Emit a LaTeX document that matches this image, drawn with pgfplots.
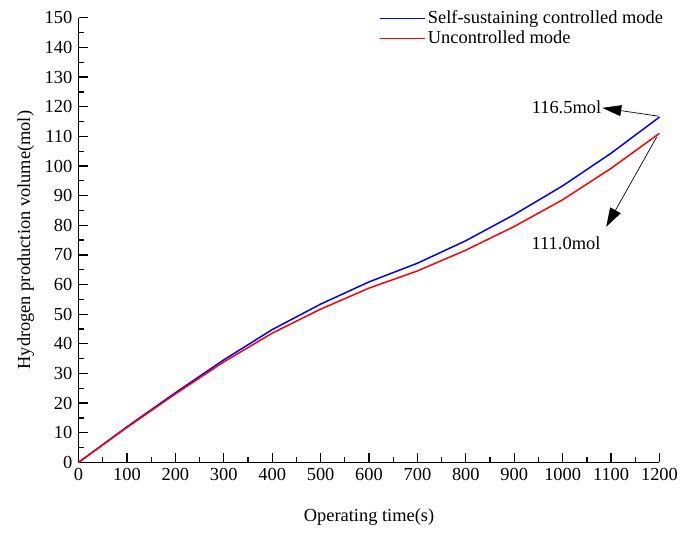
\documentclass[border=0pt]{standalone}
\usepackage{fontspec}
\setmainfont{Liberation Serif}
\usepackage{pgfplots}
\pgfplotsset{compat=1.18}
\usetikzlibrary{arrows.meta}
\begin{document}
\fontsize{18.5}{22}\selectfont
\begin{tikzpicture}
\begin{axis}[
  scale only axis, width=584pt, height=447pt,
  xmin=0, xmax=1200, ymin=0, ymax=150,
  axis lines*=left,
  axis line style={line width=1.5pt},
  xtick={0,100,...,1200}, ytick={0,10,...,150},
  minor x tick num=1, minor y tick num=1,
  tick align=inside,
  major tick length=9pt, minor tick length=5pt,
  every tick/.style={black, line width=1.3pt},
  tick label style={font=\fontsize{18.5}{22}\selectfont},
  /pgf/number format/assume math mode=true,
  /pgf/number format/1000 sep={},
  xlabel={Operating time(s)}, ylabel={Hydrogen production volume(mol)},
  label style={font=\fontsize{18.5}{22}\selectfont},
  xlabel style={at={(rel axis cs:0.5,-0.123)}, anchor=center},
  ylabel style={at={(rel axis cs:-0.0908,0.5)}, anchor=center},
  legend style={at={(rel axis cs:1.015,1.025)}, anchor=north east, draw=none, fill=none,
    font=\fontsize{18.5}{22}\selectfont},
  legend cell align=left,
  clip=false,
]
\addlegendimage{legend image code/.code={\draw[blue, line width=1.5pt] (0pt,0pt) -- (45pt,0pt);}}
\addlegendentry{Self-sustaining controlled mode}
\addlegendimage{legend image code/.code={\draw[red, line width=1.5pt] (0pt,0pt) -- (45pt,0pt);}}
\addlegendentry{Uncontrolled mode}
\addplot[blue, line width=1.5pt, forget plot] coordinates {
(0,0) (100,12.0) (200,23.5) (300,34.6) (400,44.8) (500,53.4) (600,60.9) (700,67.2) (800,74.8) (900,83.6) (1000,93.3) (1100,104.3) (1200,116.5)};
\addplot[red, line width=1.5pt, forget plot] coordinates {
(0,0) (100,11.8) (200,23.1) (300,33.9) (400,43.6) (500,51.7) (600,58.8) (700,64.6) (800,71.6) (900,79.6) (1000,88.6) (1100,99.2) (1200,111.0)};
\node[anchor=east, inner sep=1pt] at (axis cs:1082,119.7) {116.5mol};
\draw[-{Triangle[length=19pt,width=11pt]}, line width=0.7pt] (axis cs:1198,116.8) -- (axis cs:1082,119.6);
\draw[-{Triangle[length=19pt,width=12pt]}, line width=0.7pt] (axis cs:1194,109.7) -- (axis cs:1090,79.5);
\node[inner sep=1pt] at (axis cs:1007,73.8) {111.0mol};
\path (axis cs:-162.3,-23.5) rectangle (axis cs:1243.2,156.0);
\end{axis}
\end{tikzpicture}
\end{document}
